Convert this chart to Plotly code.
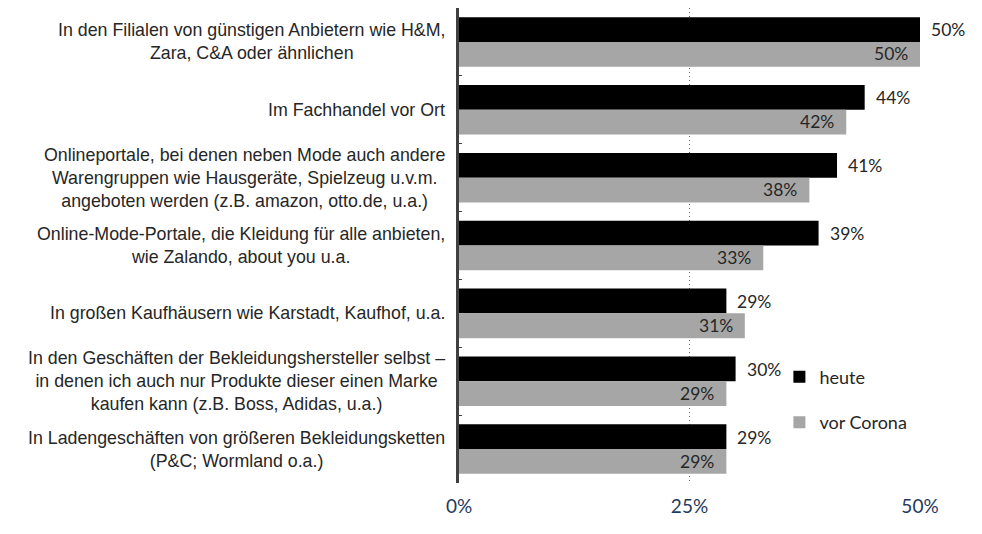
import plotly.graph_objects as go

categories = [
    "In den Filialen von günstigen Anbietern wie H&M,<br>Zara, C&A oder ähnlichen",
    "Im Fachhandel vor Ort",
    "Onlineportale, bei denen neben Mode auch andere<br>Warengruppen wie Hausgeräte, Spielzeug u.v.m.<br>angeboten werden (z.B. amazon, otto.de, u.a.)",
    "Online-Mode-Portale, die Kleidung für alle anbieten,<br>wie Zalando, about you u.a.",
    "In großen Kaufhäusern wie Karstadt, Kaufhof, u.a.",
    "In den Geschäften der Bekleidungshersteller selbst –<br>in denen ich auch nur Produkte dieser einen Marke<br>kaufen kann (z.B. Boss, Adidas, u.a.)",
    "In Ladengeschäften von größeren Bekleidungsketten<br>(P&C; Wormland o.a.)",
]
heute = [50, 44, 41, 39, 29, 30, 29]
vor_corona = [50, 42, 38, 33, 31, 29, 29]
tick_vals = [0, 25, 50]
tick_text = ["0%", "25%", "50%"]

fig = go.Figure()
fig.add_trace(go.Bar(y=categories, x=heute, orientation="h", name="heute",
                     marker=dict(color="#000000", line=dict(width=0)),
                     legendgroup="a"))
fig.add_trace(go.Bar(y=categories, x=vor_corona, orientation="h", name="vor Corona",
                     marker=dict(color="#A6A6A6", line=dict(width=0)),
                     legendgroup="b"))

annotations = []
for c in categories:
    annotations.append(dict(xref="paper", yref="y", x=0, y=c, xshift=-12,
                            xanchor="right", yanchor="middle", align="center",
                            text=c, showarrow=False,
                            font=dict(family="Liberation Sans, Arial", size=17.8, color="#262626")))
for c, v in zip(categories, heute):
    annotations.append(dict(xref="x", yref="y", x=v, y=c, yshift=12, xshift=9,
                            xanchor="left", yanchor="middle", text=f"{v}%", showarrow=False,
                            font=dict(family="Lato", size=17.5, color="#262626")))
for c, v in zip(categories, vor_corona):
    annotations.append(dict(xref="x", yref="y", x=v, y=c, yshift=-12, xshift=-10,
                            xanchor="right", yanchor="middle", text=f"{v}%", showarrow=False,
                            font=dict(family="Lato", size=17.5, color="#262626")))

fig.update_layout(
    width=982, height=534,
    margin=dict(l=451, r=70, t=0, b=59),
    paper_bgcolor="white", plot_bgcolor="white",
    barmode="group", bargap=0.27, bargroupgap=0,
    showlegend=True,
    legend=dict(x=0.695, y=0.262, xanchor="left", yanchor="top",
                font=dict(family="Lato", size=18, color="#262626"),
                tracegroupgap=19, bgcolor="rgba(0,0,0,0)"),
    annotations=annotations,
    xaxis=dict(range=[0, 50], tickvals=tick_vals, ticktext=tick_text,
               showgrid=True, griddash="1px,3px", gridcolor="#666666", gridwidth=1.3,
               zeroline=False, showline=False, ticks="", ticklabelstandoff=10,
               tickfont=dict(family="Lato", size=19, color="#1F3A5F")),
    yaxis=dict(type="category", categoryorder="array", categoryarray=categories,
               autorange="reversed", showticklabels=False,
               showline=True, linewidth=3, linecolor="#404040",
               ticks="inside", tickson="boundaries", ticklen=3, tickcolor="#404040",
               showgrid=False, zeroline=False),
)

fig.write_html("out.html")
